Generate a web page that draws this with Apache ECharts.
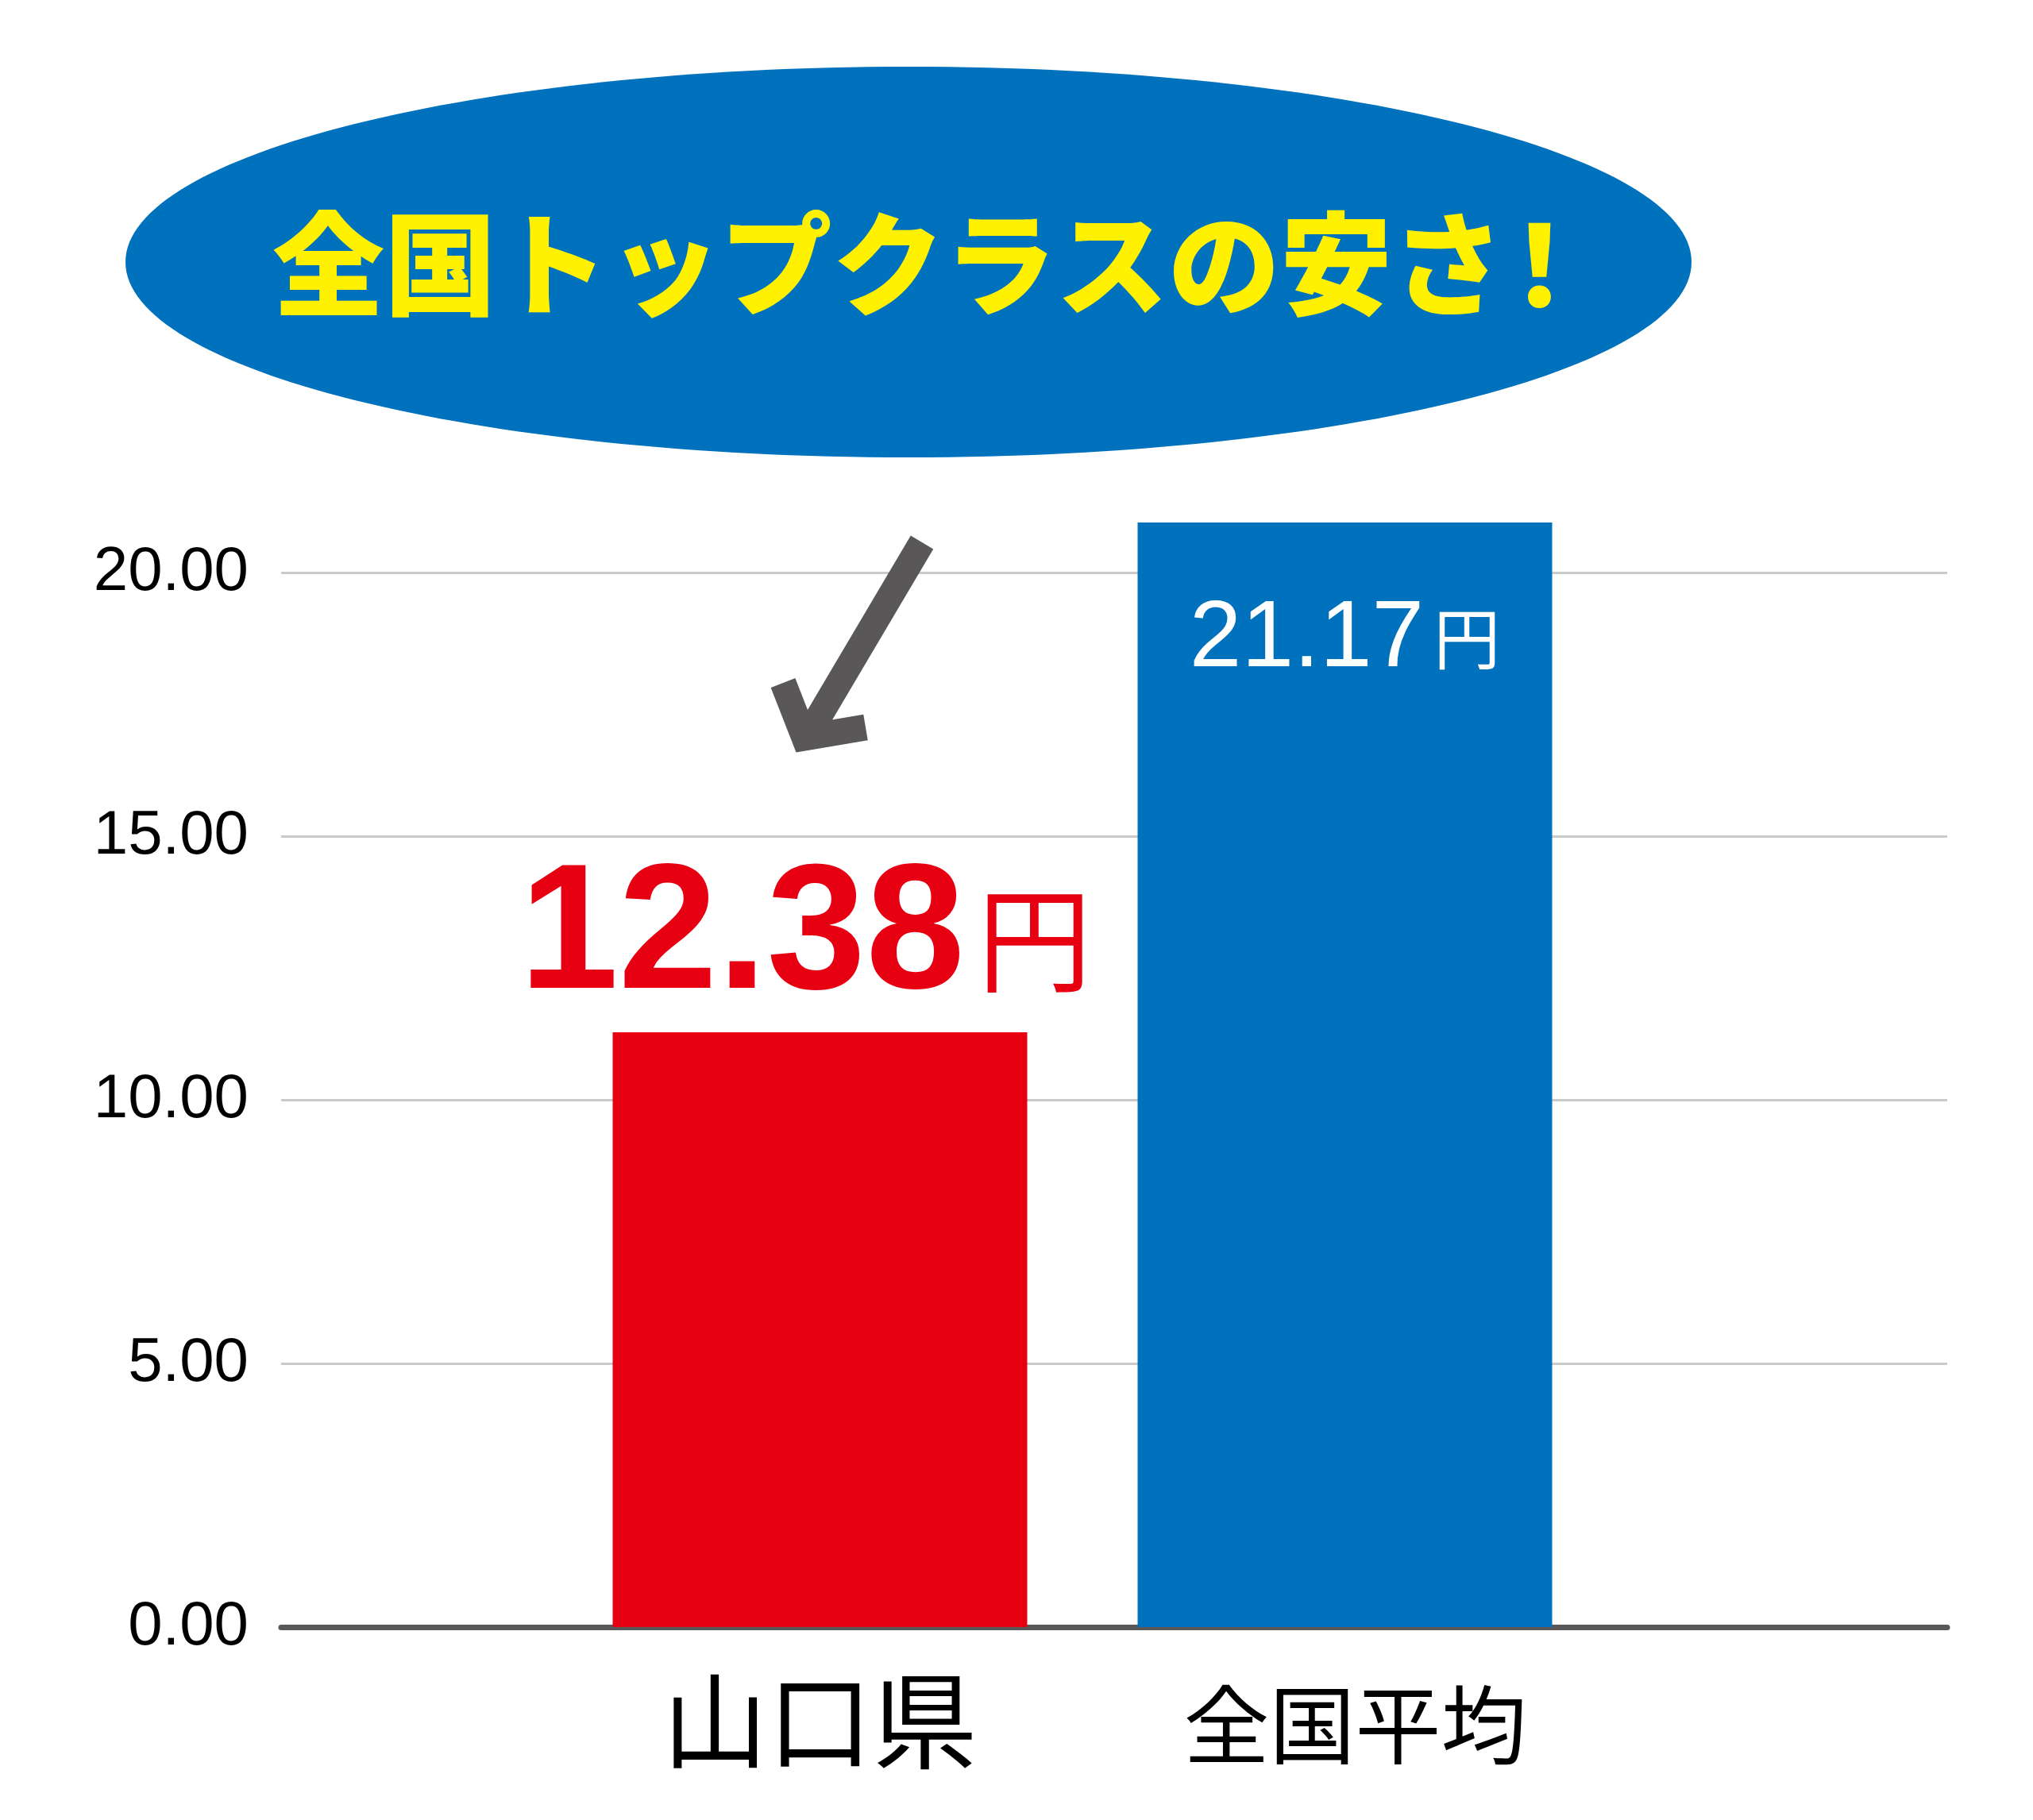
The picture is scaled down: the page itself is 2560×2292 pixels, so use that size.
<!DOCTYPE html>
<html>
<head>
<meta charset="utf-8">
<style>
  html, body { margin: 0; padding: 0; background: #ffffff; }
  #chart { width: 2560px; height: 2292px; }
</style>
<script src="https://cdn.jsdelivr.net/npm/echarts@6/dist/echarts.min.js"></script>
</head>
<body>
<div id="chart"></div>
<script>
// ---- data ----
const categories = ['山口県', '全国平均'];
const barValues = [11.28, 20.95];
const labelValues = ['12.38', '21.17'];
const labelUnit = '円';
const barColors = ['#E60012', '#0071BC'];
const yMin = 0, yMax = 20, yInterval = 5;
const titleMain = '全国トップクラスの安さ';
const titleMark = '！';

const chart = echarts.init(document.getElementById('chart'), null, { renderer: 'canvas' });

const labelStyles = [
  {
    show: true, position: 'top', distance: 6, offset: [-18, 0],
    formatter: (p) => '{n|' + labelValues[p.dataIndex] + '}{u|' + labelUnit + '}',
    rich: {
      n: { fontFamily: 'Liberation Sans, Arial, sans-serif', fontWeight: 'bold', fontSize: 224, color: '#E60012', verticalAlign: 'bottom', lineHeight: 200 },
      u: { fontFamily: 'Noto Sans CJK JP', fontWeight: 'normal', fontSize: 144, color: '#E60012', verticalAlign: 'bottom', lineHeight: 144, padding: [0, 0, 39, 16] }
    }
  },
  {
    show: true, position: 'insideTop', distance: 98, offset: [0, 0],
    formatter: (p) => '{n|' + labelValues[p.dataIndex] + '}{u|' + labelUnit + '}',
    rich: {
      n: { fontFamily: 'Liberation Sans, Arial, sans-serif', fontWeight: 'normal', fontSize: 118, color: '#ffffff', verticalAlign: 'bottom', lineHeight: 110 },
      u: { fontFamily: 'Noto Sans CJK JP', fontWeight: 'normal', fontSize: 84, color: '#ffffff', verticalAlign: 'bottom', lineHeight: 80, padding: [0, 0, 20, 12] }
    }
  }
];

const barData = barValues.map((v, i) => ({
  value: v,
  itemStyle: { color: barColors[i] },
  label: labelStyles[i]
}));

const option = {
  backgroundColor: '#ffffff',
  animation: false,
  grid: [
    { left: 354, right: 108, top: 721, bottom: 243, containLabel: false },
    { left: 702, right: 536, top: 721, bottom: 243, containLabel: false }
  ],
  xAxis: [
    {
      gridIndex: 0, type: 'value', min: 0, max: 1,
      axisLine: { show: true, onZero: false, lineStyle: { color: '#595757', width: 7 } },
      axisTick: { show: false }, axisLabel: { show: false }, splitLine: { show: false }
    },
    {
      gridIndex: 1, type: 'category', data: categories,
      axisLine: { show: false }, axisTick: { show: false },
      axisLabel: {
        margin: 48,
        formatter: (v, i) => (i === 0 ? '{a|' + v + '}' : '{b|' + v + '}'),
        rich: {
          a: { fontFamily: 'Noto Sans CJK JP', fontSize: 132, color: '#000000', lineHeight: 140 },
          b: { fontFamily: 'Noto Sans CJK JP', fontSize: 108, color: '#000000', lineHeight: 140, padding: [10, 0, 0, 26] }
        }
      }
    }
  ],
  yAxis: [
    {
      gridIndex: 0, type: 'value', min: yMin, max: yMax, interval: yInterval,
      axisLine: { show: false }, axisTick: { show: false },
      axisLabel: {
        margin: 41, fontFamily: 'Liberation Sans, Arial, sans-serif', fontSize: 78, color: '#000000',
        formatter: (v) => v.toFixed(2)
      },
      splitLine: { show: true, lineStyle: { color: '#C9CACA', width: 3 } }
    },
    {
      gridIndex: 1, type: 'value', min: yMin, max: yMax, interval: yInterval,
      show: false
    }
  ],
  series: [
    {
      type: 'bar', xAxisIndex: 1, yAxisIndex: 1,
      barWidth: 522, clip: false, z: 3,
      data: barData
    }
  ],
  graphic: [
    {
      type: 'ellipse', z: 10,
      shape: { cx: 1144, cy: 330, rx: 986, ry: 246 },
      style: { fill: '#0071BC' }
    },
    {
      type: 'text', z: 11,
      x: 343, y: 332,
      style: {
        text: titleMain,
        fill: '#FFF100',
        fontFamily: 'Noto Sans CJK JP',
        fontWeight: 900,
        fontSize: 141,
        align: 'left',
        verticalAlign: 'middle'
      }
    },
    {
      type: 'text', z: 11,
      x: 1868, y: 332,
      style: {
        text: titleMark,
        fill: '#FFF100',
        fontFamily: 'Noto Sans CJK JP',
        fontWeight: 900,
        fontSize: 141,
        align: 'left',
        verticalAlign: 'middle'
      }
    },
    {
      type: 'polyline', z: 11,
      shape: { points: [[1161, 683], [1022, 918]] },
      style: { stroke: '#595757', lineWidth: 33, fill: null, lineCap: 'butt' }
    },
    {
      type: 'polyline', z: 11,
      shape: { points: [[986, 860], [1013, 929], [1090, 916]] },
      style: { stroke: '#595757', lineWidth: 33, fill: null, lineJoin: 'miter', miterLimit: 10, lineCap: 'butt' }
    }
  ]
};

chart.setOption(option);
</script>
</body>
</html>
